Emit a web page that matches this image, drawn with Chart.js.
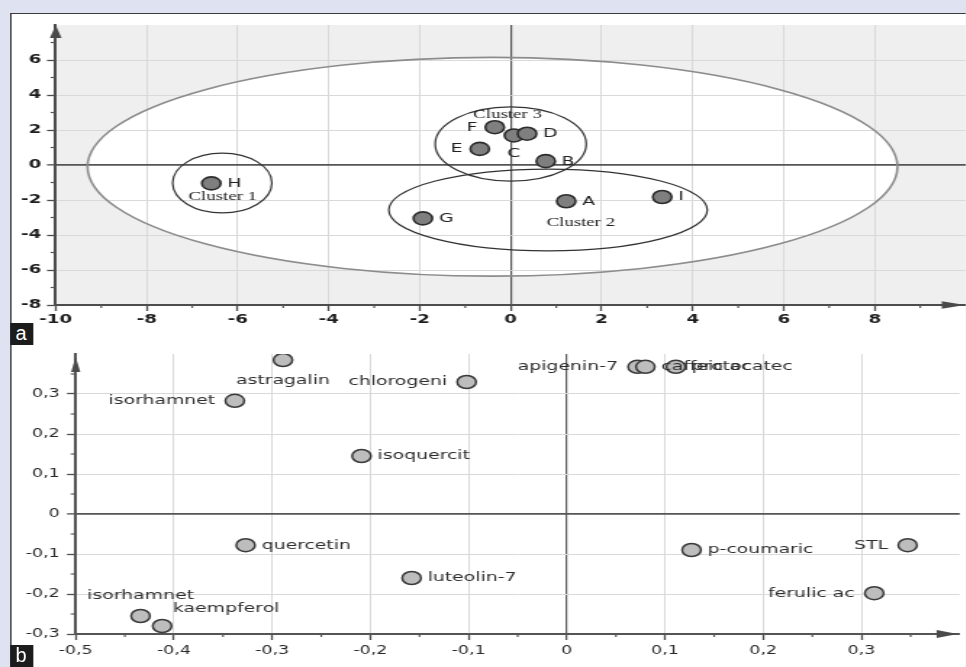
<!DOCTYPE html>
<html>
<head>
<meta charset="utf-8">
<script src="https://cdn.jsdelivr.net/npm/chart.js@4.4.1/dist/chart.umd.min.js"></script>
<style>
  html, body { margin: 0; padding: 0; width: 966px; height: 667px; overflow: hidden; background: #dfe3f1; }
  #stage { position: absolute; left: 0; top: 0; height: 667px; transform-origin: 0 0; }
  #sheet { position: absolute; top: 13px; bottom: 0; right: 0; background: #fff;
           border-top: 1px solid #3c3c3c; border-left: 1px solid #3c3c3c; box-sizing: border-box; }
  canvas { position: absolute; display: block; }
  .badge { position: absolute; background: #1c1c1c; color: #fff; text-align: center;
           font: 20px "Liberation Sans", Arial, sans-serif; overflow: hidden; }
  .badge span { display: inline-block; }
</style>
</head>
<body>
<div id="stage">
  <div id="sheet"></div>
  <canvas id="scores"></canvas>
  <canvas id="loadings"></canvas>
  <div class="badge" id="badgeA"><span>a</span></div>
  <div class="badge" id="badgeB"><span>b</span></div>
</div>
<script>
// ---- (a) sample scores ----
const sampleNames = ['A', 'B', 'C', 'D', 'E', 'F', 'G', 'H', 'I'];
const sampleX = [1.22, 0.77, 0.07, 0.36, -0.68, -0.35, -1.93, -6.58, 3.33];
const sampleY = [-2.07, 0.22, 1.69, 1.79, 0.92, 2.16, -3.05, -1.05, -1.83];
const sampleLabelSide = ['right', 'right', 'below', 'right', 'left', 'left', 'right', 'right', 'right'];

// cluster ellipses (centre, half-axes) and their captions
const clusterNames = ['Cluster 1', 'Cluster 2', 'Cluster 3'];
const clusterCX = [-6.34, 0.82, 0.0];
const clusterCY = [-1.03, -2.57, 1.2];
const clusterRX = [1.09, 3.5, 1.66];
const clusterRY = [1.71, 2.34, 2.12];
const clusterLabelX = [-6.33, 1.54, -0.07];
const clusterLabelY = [-1.83, -3.3, 2.86];

// Hotelling T2 ellipse
const t2Centre = [-0.4, -0.1];
const t2Radii = [8.9, 6.25];

const scoreXRange = [-10, 10];
const scoreYRange = [-8, 8];
const scoreStep = 2;

// ---- (b) compound loadings ----
const compoundNames = ['astragalin', 'isorhamnet', 'quercetin', 'isorhamnet', 'kaempferol', 'chlorogeni',
  'isoquercit', 'luteolin-7', 'apigenin-7', 'caffeic ac', 'protocatec', 'p-coumaric', 'STL', 'ferulic ac'];
const compoundX = [-0.289, -0.338, -0.327, -0.434, -0.412, -0.102, -0.209, -0.158, 0.072, 0.080, 0.111, 0.127, 0.347, 0.313];
const compoundY = [0.385, 0.283, -0.078, -0.255, -0.28, 0.33, 0.145, -0.16, 0.368, 0.368, 0.368, -0.09, -0.078, -0.198];
const compoundLabelSide = ['below', 'left', 'right', 'above', 'aboveRight', 'left', 'right', 'right', 'left',
  'right', 'right', 'right', 'left', 'left'];

const loadXRange = [-0.5, 0.4];
const loadYRange = [-0.3, 0.4];
const loadStep = 0.1;

// ---- page geometry: the whole figure is drawn narrow and stretched sideways ----
const SX = 1.45;
const W = 966 / SX;
const px = v => v / SX;
const stage = document.getElementById('stage');
stage.style.width = W + 'px';
stage.style.transform = 'scaleX(' + SX + ')';
Object.assign(document.getElementById('sheet').style, { left: px(10) + 'px', width: (W - px(10)) + 'px' });

function placeCanvas(id, top, height) {
  const c = document.getElementById(id);
  const w = Math.round(W - px(10));
  c.width = w; c.height = height;
  Object.assign(c.style, { left: (W - w) + 'px', top: top + 'px', width: w + 'px', height: height + 'px' });
  return c;
}
const canvasA = placeCanvas('scores', 13, 317);
const canvasB = placeCanvas('loadings', 345, 322);
const leftA = W - canvasA.width;   // left edge of both canvases (unscaled px)

Object.assign(document.getElementById('badgeA').style, { left: px(10) + 'px', top: '323px', width: px(23) + 'px', height: '22px', lineHeight: '20px' });
Object.assign(document.getElementById('badgeB').style, { left: px(10) + 'px', top: '645px', width: px(23) + 'px', height: '22px', lineHeight: '20px' });
document.querySelectorAll('.badge span').forEach(s => s.style.transform = 'scaleX(' + (1 / SX) + ')');

const near = (a, b) => Math.abs(a - b) < 1e-7;
const fmtComma = v => { const r = Math.round(v * 10) / 10; return r === 0 ? '0' : r.toFixed(1).replace('.', ','); };

function gridStyle(maxVal, zeroWidth) {
  return {
    color: c => near(c.tick.value, maxVal) ? 'rgba(0,0,0,0)' : near(c.tick.value, 0) ? '#555' : '#d9d9d9',
    lineWidth: c => near(c.tick.value, 0) ? zeroWidth : 1,
    tickColor: c => near(c.tick.value, maxVal) ? 'rgba(0,0,0,0)' : '#4d4d4d',
    tickLength: 6,
    tickWidth: 1.3,
    drawOnChartArea: true
  };
}

function fixAxis(size, isX) {
  return s => {
    if (isX) s.height = size; else s.width = size;
    s.paddingLeft = 0; s.paddingRight = 0; s.paddingTop = 0; s.paddingBottom = 0;
  };
}

function drawLabel(ctx, text, x, y, side, g) {
  ctx.textBaseline = 'middle';
  if (side === 'right') { ctx.textAlign = 'left'; ctx.fillText(text, x + g.right, y); }
  else if (side === 'left') { ctx.textAlign = 'right'; ctx.fillText(text, x - g.left, y); }
  else if (side === 'below') { ctx.textAlign = 'center'; ctx.fillText(text, x, y + g.below); }
  else if (side === 'above') { ctx.textAlign = 'center'; ctx.fillText(text, x, y - g.above); }
  else if (side === 'aboveRight') { ctx.textAlign = 'left'; ctx.fillText(text, x + 7.5, y - 17); }
}

function drawArrows(chart, yTipOff, yLen, yHalf, xTipOff, xLen, xHalf) {
  const { ctx, chartArea: a } = chart;
  ctx.save();
  ctx.fillStyle = '#4a4a4a';
  ctx.beginPath();
  ctx.moveTo(a.left, a.top + yTipOff);
  ctx.lineTo(a.left - yHalf, a.top + yTipOff + yLen);
  ctx.lineTo(a.left + yHalf, a.top + yTipOff + yLen);
  ctx.closePath(); ctx.fill();
  ctx.beginPath();
  ctx.moveTo(a.right - xTipOff, a.bottom);
  ctx.lineTo(a.right - xTipOff - xLen, a.bottom - xHalf);
  ctx.lineTo(a.right - xTipOff - xLen, a.bottom + xHalf);
  ctx.closePath(); ctx.fill();
  ctx.restore();
}

function drawMinorTicks(chart, step) {
  const { ctx, chartArea: a, scales } = chart;
  ctx.save();
  ctx.strokeStyle = '#555';
  ctx.lineWidth = 1.2;
  const xs = scales.x, ys = scales.y;
  for (let v = xs.min + step / 2; v < xs.max - step / 4; v += step) {
    const p = xs.getPixelForValue(v);
    ctx.beginPath(); ctx.moveTo(p, a.bottom); ctx.lineTo(p, a.bottom + 3); ctx.stroke();
  }
  for (let v = ys.min + step / 2; v < ys.max - step / 4; v += step) {
    const p = ys.getPixelForValue(v);
    ctx.beginPath(); ctx.moveTo(a.left, p); ctx.lineTo(a.left - 3.5, p); ctx.stroke();
  }
  ctx.restore();
}

function ellipsePath(ctx, xs, ys, cx, cy, rx, ry) {
  const px0 = xs.getPixelForValue(cx), py0 = ys.getPixelForValue(cy);
  const rpx = Math.abs(xs.getPixelForValue(cx + rx) - px0);
  const rpy = Math.abs(ys.getPixelForValue(cy + ry) - py0);
  ctx.beginPath();
  ctx.ellipse(px0, py0, rpx, rpy, 0, 0, Math.PI * 2);
}

// ---- chart (a) ----
const scorePlugin = {
  id: 'scoreDecor',
  beforeDraw(chart) {
    const { ctx, chartArea: a, scales: { x, y } } = chart;
    ctx.save();
    ctx.fillStyle = '#efefef';
    ctx.fillRect(a.left, a.top, a.right - a.left, a.bottom - a.top);
    ellipsePath(ctx, x, y, t2Centre[0], t2Centre[1], t2Radii[0], t2Radii[1]);
    ctx.fillStyle = '#ffffff';
    ctx.fill();
    ctx.restore();
  },
  beforeDatasetsDraw(chart) {
    const { ctx, scales: { x, y } } = chart;
    ctx.save();
    ellipsePath(ctx, x, y, t2Centre[0], t2Centre[1], t2Radii[0], t2Radii[1]);
    ctx.strokeStyle = '#8c8c8c'; ctx.lineWidth = 1.6; ctx.stroke();
    ctx.strokeStyle = '#333'; ctx.lineWidth = 1.2;
    clusterNames.forEach((n, i) => {
      ellipsePath(ctx, x, y, clusterCX[i], clusterCY[i], clusterRX[i], clusterRY[i]);
      ctx.stroke();
    });
    ctx.restore();
  },
  afterDatasetsDraw(chart) {
    const { ctx, scales: { x, y } } = chart;
    const meta = chart.getDatasetMeta(0);
    ctx.save();
    ctx.fillStyle = '#222';
    ctx.font = '13px "DejaVu Sans", Verdana, sans-serif';
    meta.data.forEach((el, i) => drawLabel(ctx, sampleNames[i], el.x, el.y, sampleLabelSide[i], { right: 11, left: 12, below: 18, above: 18 }));
    ctx.font = '13px "Liberation Serif", "Times New Roman", serif';
    ctx.textAlign = 'center'; ctx.textBaseline = 'middle';
    clusterNames.forEach((n, i) => ctx.fillText(n, x.getPixelForValue(clusterLabelX[i]), y.getPixelForValue(clusterLabelY[i])));
    ctx.restore();
  },
  afterDraw(chart) {
    drawMinorTicks(chart, 2);
    drawArrows(chart, 0, 13, 4, 0.5, 16, 3.7);
  }
};

new Chart(canvasA, {
  type: 'scatter',
  data: {
    datasets: [{
      data: sampleX.map((v, i) => ({ x: v, y: sampleY[i] })),
      pointRadius: 6.5,
      pointBackgroundColor: '#7f7f7f',
      pointBorderColor: '#2c2c2c',
      pointBorderWidth: 1.6
    }]
  },
  options: {
    responsive: false, animation: false, events: [], devicePixelRatio: 1,
    layout: { autoPadding: false, padding: { top: 12, left: 0, right: 0, bottom: 0 } },
    plugins: { legend: { display: false }, tooltip: { enabled: false } },
    scales: {
      x: {
        type: 'linear', min: scoreXRange[0], max: scoreXRange[1],
        ticks: { stepSize: scoreStep, autoSkip: false, maxRotation: 0, padding: 1, color: '#1c1c1c',
          font: { family: 'DejaVu Sans', weight: 'bold', size: 12.5 },
          callback: v => near(v, scoreXRange[1]) ? '' : String(Math.round(v)) },
        grid: gridStyle(scoreXRange[1], 1.2),
        border: { color: '#4d4d4d', width: 2 },
        afterFit: fixAxis(25, true)
      },
      y: {
        type: 'linear', min: scoreYRange[0], max: scoreYRange[1],
        ticks: { stepSize: scoreStep, autoSkip: false, padding: 4, color: '#1c1c1c',
          font: { family: 'DejaVu Sans', weight: 'bold', size: 12.5 },
          callback: v => near(v, scoreYRange[1]) ? '' : String(Math.round(v)) },
        grid: gridStyle(scoreYRange[1], 1.7),
        border: { color: '#4d4d4d', width: 2 },
        afterFit: fixAxis(px(56) - leftA, false)
      }
    }
  },
  plugins: [scorePlugin]
});

// ---- chart (b) ----
const loadPlugin = {
  id: 'loadDecor',
  afterDatasetsDraw(chart) {
    const { ctx } = chart;
    const meta = chart.getDatasetMeta(0);
    ctx.save();
    ctx.fillStyle = '#2e2e2e';
    ctx.font = '13px "DejaVu Sans", Verdana, sans-serif';
    meta.data.forEach((el, i) => drawLabel(ctx, compoundNames[i], el.x, el.y, compoundLabelSide[i], { right: 11, left: 13.5, below: 21, above: 20 }));
    ctx.restore();
  },
  afterDraw(chart) {
    drawMinorTicks(chart, loadStep);
    drawArrows(chart, 3, 15, 3.2, 1.4, 14.5, 4);
  }
};

new Chart(canvasB, {
  type: 'scatter',
  data: {
    datasets: [{
      data: compoundX.map((v, i) => ({ x: v, y: compoundY[i] })),
      pointRadius: 6.5,
      pointBackgroundColor: '#bdbdbd',
      pointBorderColor: '#3a3a3a',
      pointBorderWidth: 1.5
    }]
  },
  options: {
    responsive: false, animation: false, events: [], devicePixelRatio: 1,
    layout: { autoPadding: false, padding: { top: 9, left: 0, right: px(6), bottom: 0 } },
    plugins: { legend: { display: false }, tooltip: { enabled: false } },
    scales: {
      x: {
        type: 'linear', min: loadXRange[0], max: loadXRange[1],
        ticks: { stepSize: loadStep, autoSkip: false, maxRotation: 0, padding: 4, color: '#2a2a2a',
          font: { family: 'DejaVu Sans', size: 12 },
          callback: v => near(v, loadXRange[1]) ? '' : fmtComma(v) },
        grid: gridStyle(loadXRange[1], 1.2),
        border: { color: '#555', width: 2 },
        afterFit: fixAxis(33, true)
      },
      y: {
        type: 'linear', min: loadYRange[0], max: loadYRange[1],
        ticks: { stepSize: loadStep, autoSkip: false, padding: 5, color: '#2a2a2a',
          font: { family: 'DejaVu Sans', size: 12 },
          callback: v => near(v, loadYRange[1]) ? '' : fmtComma(v) },
        grid: gridStyle(loadYRange[1], 1.8),
        border: { color: '#555', width: 2 },
        afterFit: fixAxis(px(76) - leftA, false)
      }
    }
  },
  plugins: [loadPlugin]
});
</script>
</body>
</html>
